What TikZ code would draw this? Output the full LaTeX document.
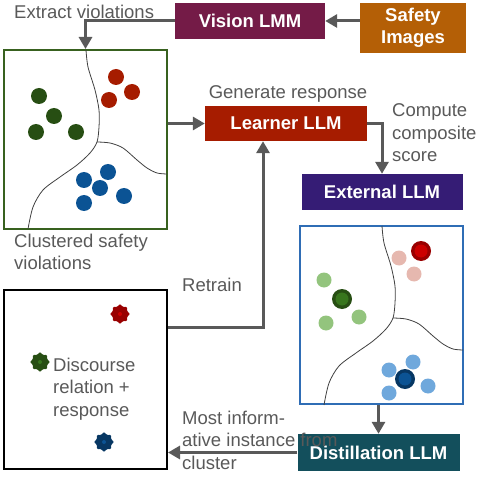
\documentclass[tikz,border=0pt]{standalone}
\usepackage{fontspec}
\setmainfont{Liberation Sans}
\usetikzlibrary{arrows.meta, shapes.geometric}

\definecolor{textgray}{HTML}{595959}
\definecolor{visioncol}{HTML}{741B47}
\definecolor{safetycol}{HTML}{B45F06}
\definecolor{learnercol}{HTML}{A61C00}
\definecolor{externalcol}{HTML}{351C75}
\definecolor{distillcol}{HTML}{134F5C}
\definecolor{panelgreen}{HTML}{38611F}
\definecolor{panelblue}{HTML}{2F6DB5}
\definecolor{dkgreen}{HTML}{274E13}
\definecolor{midgreen}{HTML}{38761D}
\definecolor{ltgreen}{HTML}{93C47D}
\definecolor{dkred}{HTML}{990000}
\definecolor{midred}{HTML}{CC0000}
\definecolor{ltred}{HTML}{E6B8AF}
\definecolor{dkblue}{HTML}{073763}
\definecolor{midblue}{HTML}{0B5394}
\definecolor{ltblue}{HTML}{6FA8DC}

\begin{document}
\begin{tikzpicture}[x = 1pt, y = -1pt,
  every node/.style = {font = \fontsize{18.5}{22.5}\selectfont},
  model/.style = {inner sep = 0pt, text = white, align = center,
    font = \fontsize{18.5}{22.5}\selectfont\bfseries},
  panel/.style = {draw, line width = 2pt, inner sep = 0pt,
    minimum width = 163pt, minimum height = 179pt},
  note/.style = {text = textgray, align = left, inner sep = 0pt, anchor = west},
  flow/.style = {draw = textgray, line width = 3pt,
    -{Triangle[length = 12pt, width = 13pt]}},
  border/.style = {draw = black!75, line width = 0.8pt},
  gear/.style = {star, star points = 8, star point ratio = 1.45,
    minimum size = 21pt, inner sep = 0pt, rounded corners = 1.5pt}]
\useasboundingbox (0, 0) rectangle (481, 478);

\node[model, fill = visioncol, minimum width = 150pt, minimum height = 36pt] at (250, 21) (vision) {Vision LMM};
\node[model, fill = safetycol, minimum width = 106pt, minimum height = 50pt] at (413, 28) (safety) {Safety\\Images};
\node[model, fill = learnercol, minimum width = 162pt, minimum height = 35pt] at (286, 123.5) (learner) {Learner LLM};
\node[model, fill = externalcol, minimum width = 161pt, minimum height = 36pt] at (382, 192) (external) {External LLM};
\node[model, fill = distillcol, minimum width = 162pt, minimum height = 37pt] at (378.5, 452.5) (distill) {Distillation LLM};

\node[panel, draw = panelgreen] at (85.5, 139.5) (clusters) {};
\node[panel, draw = panelblue, minimum height = 178pt] at (381.5, 315) (selected) {};
\node[panel, draw = black] at (85.5, 379.5) (discourse) {};

\foreach \dx/\dy in {0/0, 296/176}
  \draw[border, shift = {(\dx, \dy)}]
    plot[smooth] coordinates {(86, 50) (88, 67) (95, 90) (99, 110) (99, 127) (97, 142) (90, 153) (77, 165) (60, 177) (43, 190) (33, 207) (28, 229)}
    plot[smooth] coordinates {(97, 142) (110, 143) (123, 148) (137, 160) (147, 168) (157, 173) (167, 174)};

\foreach \p in {(39, 96), (54, 116), (36, 132), (76, 132)}
  \fill[dkgreen] \p circle[radius = 8pt];
\foreach \p in {(116, 77), (132, 92), (109, 100)}
  \fill[learnercol] \p circle[radius = 8pt];
\foreach \p in {(108, 172), (84, 180), (100, 188), (124, 196), (84, 203)}
  \fill[midblue] \p circle[radius = 8pt];

\foreach \p in {(324, 280), (326, 323), (359, 317)}
  \fill[ltgreen] \p circle[radius = 7.5pt];
\foreach \p in {(399, 258), (414, 274)}
  \fill[ltred] \p circle[radius = 7.5pt];
\foreach \p in {(389, 370), (413, 362), (428, 386), (389, 393)}
  \fill[ltblue] \p circle[radius = 7.5pt];
\fill[dkgreen] (342, 299) circle[radius = 10pt];
\fill[midgreen] (342, 299) circle[radius = 6.5pt];
\fill[dkred] (421, 251) circle[radius = 10pt];
\fill[midred] (421, 251) circle[radius = 6.5pt];
\fill[dkblue] (405, 379) circle[radius = 10pt];
\fill[midblue] (405, 379) circle[radius = 6.5pt];

\node[gear, fill = dkred] at (120, 314) (redgear) {};
\node[gear, fill = dkgreen] at (40, 362) (greengear) {};
\node[gear, fill = dkblue] at (104, 442) (bluegear) {};
\fill[midred] (redgear) circle[radius = 2pt];
\fill[midgreen] (greengear) circle[radius = 2pt];
\fill[midblue] (bluegear) circle[radius = 2pt];

\draw[flow] (safety.west |- vision.east) -- (vision.east);
\draw[flow] (vision.west) -| (clusters.north);
\draw[flow] (clusters.east |- learner.west) -- (learner.west);
\draw[flow] (learner.east) -| (external.north);
\draw[flow] (selected.south -| distill.north) -- (distill.north);
\draw[flow] (distill.west) -- (discourse.east |- distill.west);
\draw[flow] (discourse.east |- 0, 327) -| (learner.south -| 263, 0);

\node[note] at (14, 12) (extract) {Extract violations};
\node[note, anchor = center] at (288, 94) (generate) {Generate response};
\node[note] at (392, 133) (compute) {Compute\\composite\\score};
\node[note] at (14, 252) (clustered) {Clustered safety\\violations};
\node[note] at (182, 285) (retrain) {Retrain};
\node[note] at (53, 389) (relation) {Discourse\\relation +\\response};
\node[note] at (182, 440) (informative) {Most inform-\\ative instance from\\cluster};

\end{tikzpicture}
\end{document}
